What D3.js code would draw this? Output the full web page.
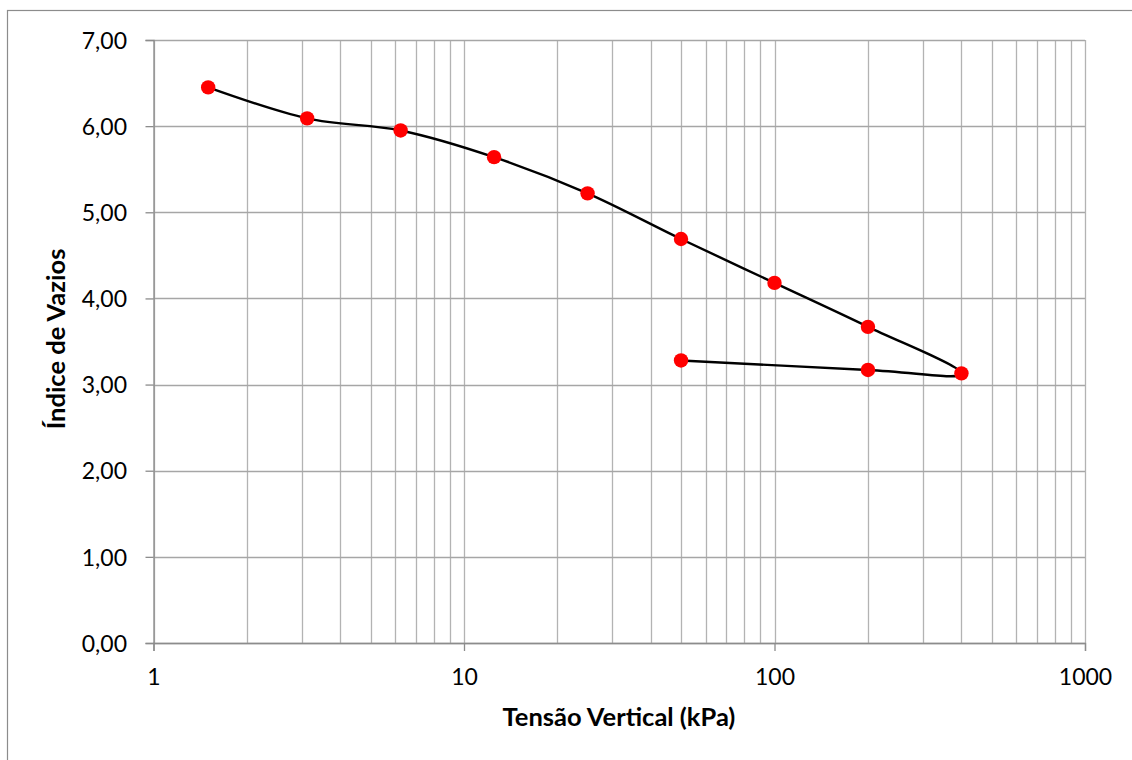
<!DOCTYPE html>
<html>
<head>
<meta charset="utf-8">
<script src="https://cdn.jsdelivr.net/npm/d3@7"></script>
<style>
body{margin:0;background:#fff}
text{font-family:Lato,"Open Sans",sans-serif}
</style>
</head>
<body>
<svg id="svg1" width="1132" height="760"></svg>
<script>
var tensao = [1.5, 3.125, 6.25, 12.5, 25, 50, 100, 200, 400, 200, 50]
var vazios = [6.45, 6.09, 5.95, 5.64, 5.22, 4.69, 4.18, 3.67, 3.13, 3.17, 3.28]
var yTicks = [0, 1, 2, 3, 4, 5, 6, 7]
var xTicks = [1, 10, 100, 1000]

var svg = d3.select("#svg1")
var mLeft = 153.5, mRight = 1085, mTop = 40, mBottom = 643

svg.append("rect").attr("x", 7.5).attr("y", 10.5).attr("width", 1140).attr("height", 760)
  .attr("fill", "white").attr("stroke", "#8c8c8c").attr("stroke-width", 1.2)

var x = d3.scaleLog().domain([1, 1000]).range([mLeft, mRight])
var y = d3.scaleLinear().domain([0, 7]).range([mBottom, mTop])

// minor + major vertical grid
var xgrid = []
for (var d = 1; d < 1000; d *= 10) {
  for (var k = 1; k <= 9; k++) xgrid.push(d * k)
}
xgrid.push(1000)
svg.append("g").selectAll("line").data(xgrid).join("line")
  .attr("x1", function(v){return Math.round(x(v)) + 0.5})
  .attr("x2", function(v){return Math.round(x(v)) + 0.5})
  .attr("y1", mTop).attr("y2", mBottom)
  .attr("stroke", "#b3b3b3").attr("stroke-width", 1.3)

svg.append("g").selectAll("line").data(yTicks).join("line")
  .attr("x1", mLeft).attr("x2", mRight)
  .attr("y1", function(v){return Math.round(y(v)) + 0.5})
  .attr("y2", function(v){return Math.round(y(v)) + 0.5})
  .attr("stroke", "#a6a6a6").attr("stroke-width", 1.3)

// axes
var yAxis = d3.axisLeft(y).tickValues(yTicks).tickSize(8)
  .tickFormat(function(v){return d3.format(".2f")(v).replace(".", ",")})
var gy = svg.append("g").attr("transform", "translate(" + mLeft + ",0)").call(yAxis)
gy.select(".domain").attr("stroke", "#8c8c8c").attr("stroke-width", 1.3)
gy.selectAll(".tick line").attr("stroke", "#8c8c8c").attr("stroke-width", 1.3)
gy.selectAll("text").attr("font-size", 23).attr("fill", "#000").attr("x", -26.5).attr("dy", "0.36em")
  .attr("font-family", "Lato")

var xAxis = d3.axisBottom(x).tickValues(xTicks).tickSize(8).tickFormat(d3.format("d"))
var gx = svg.append("g").attr("transform", "translate(0," + mBottom + ")").call(xAxis)
gx.select(".domain").attr("stroke", "#8c8c8c").attr("stroke-width", 1.3)
gx.selectAll(".tick line").attr("stroke", "#8c8c8c").attr("stroke-width", 1.3)
gx.selectAll("text").attr("font-size", 23).attr("fill", "#000").attr("y", 26)
  .attr("font-family", "Lato")

// curve
var pts = tensao.map(function(t, i){return [x(t), y(vazios[i])]})
svg.append("path").datum(pts)
  .attr("d", d3.line().curve(d3.curveCardinal.tension(0)))
  .attr("fill", "none").attr("stroke", "black").attr("stroke-width", 2.4)

svg.append("g").selectAll("circle").data(pts).join("circle")
  .attr("cx", function(p){return p[0]}).attr("cy", function(p){return p[1]})
  .attr("r", 7.2).attr("fill", "#ff0000")

// titles
svg.append("text").attr("x", 619).attr("y", 726).attr("text-anchor", "middle")
  .attr("font-size", 25.5).attr("font-weight", "bold").text("Tensão Vertical (kPa)")
svg.append("text").attr("transform", "translate(65,339) rotate(-90)").attr("text-anchor", "middle")
  .attr("font-size", 25.5).attr("font-weight", "bold").text("Índice de Vazios")
</script>
</body>
</html>
